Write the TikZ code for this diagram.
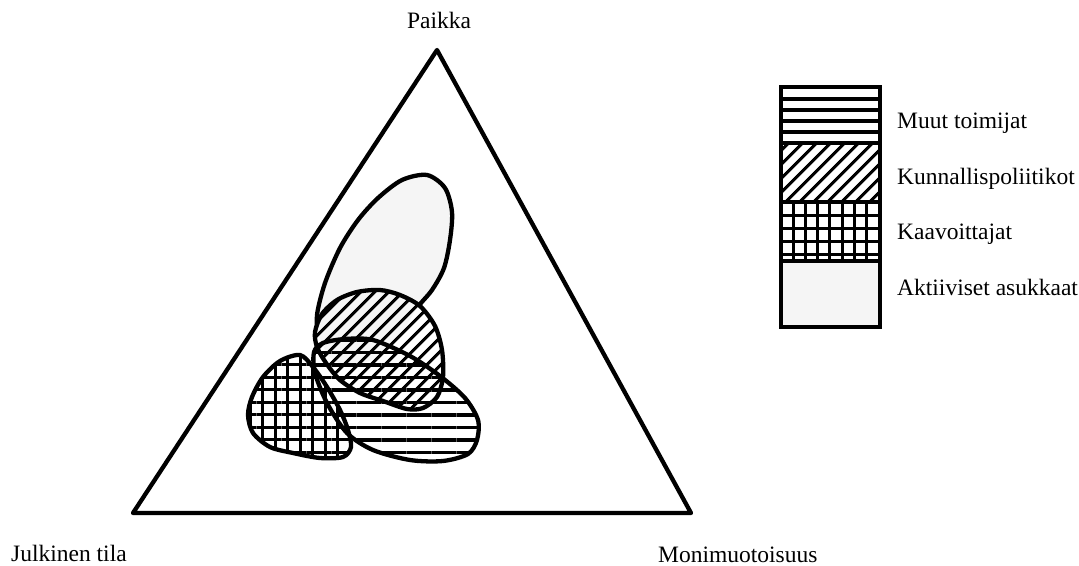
\documentclass[tikz,border=0pt]{standalone}
\usepackage{fontspec}
\setmainfont{Liberation Serif}
\usetikzlibrary{patterns.meta}
\newcommand\shpdot{plot[smooth cycle] coordinates {(427,175) (445,188) (452,212) (450,240) (444,268) (432,290) (417,308) (400,335) (375,358) (350,366) (330,357) (319,336) (317,315) (325,283) (340,248) (358,220) (378,198) (402,180)}}
\newcommand\shpdiag{plot[smooth cycle] coordinates {(380,290) (400,295) (420,306) (435,326) (442,350) (443,377) (437,397) (423,408) (407,409) (383,401) (360,393) (340,380) (326,363) (317,347) (315,332) (322,314) (337,300) (357,292)}}
\newcommand\shphor{plot[smooth cycle] coordinates {(373,340) (410,356) (440,376) (465,398) (478,420) (477,440) (468,454) (443,461) (410,460) (373,450) (347,433) (327,403) (315,373) (314,352) (323,343) (345,339)}}
\newcommand\shpgrid{plot[smooth cycle] coordinates {(300,355) (313,367) (327,387) (340,410) (348,430) (351,447) (343,457) (320,458) (293,453) (270,447) (253,433) (248,415) (252,397) (263,377) (280,361)}}
\begin{document}
\begin{tikzpicture}[x=1pt,y=-1pt,
  outl/.style={line width=4.3pt, line join=round},
  hlines/.style={pattern={Lines[distance=12.5pt, line width=3.3pt]}},
  dlines/.style={pattern={Lines[angle=45, distance=10.5pt, line width=3.3pt]}},
  gridfill/.style={pattern={Hatch[distance=12.5pt, line width=3pt]}},
  dotfill/.style={fill=black!4},
  lbl/.style={font=\fontsize{23.5}{28}\selectfont, inner sep=0pt},
  legline/.style={line width=3.3pt}]
\useasboundingbox (0,0) rectangle (1079,565);
% triangle
\coordinate (top) at (437,50);
\coordinate (bl) at (133,513);
\coordinate (br) at (691,513);
\draw[outl] (top) -- (bl) -- (br) -- cycle;
% corner labels
\node[lbl, anchor=base] (paikka) at (439,28) {Paikka};
\node[lbl, anchor=base west] (julkinen) at (11,561) {Julkinen tila};
\node[lbl, anchor=base west] (moni) at (658,562) {Monimuotoisuus};
% shapes
\fill[dotfill] \shpdot;
\begin{scope}[even odd rule]
  \clip (0,0) rectangle (1079,565) \shpdiag;
  \draw[outl] \shpdot;
\end{scope}
\path[dlines] \shpdiag;
\path[hlines] \shphor;
\path[gridfill] \shpgrid;
\draw[outl] \shpdiag;
\draw[outl] \shphor;
\draw[outl] \shpgrid;
% legend
\fill[dotfill] (781,261) rectangle (880,327);
\begin{scope}
  \clip (781,88) rectangle (880,143);
  \foreach \y in {99,110,121,132} \draw[legline] (770,\y) -- (890,\y);
\end{scope}
\path[dlines] (781,143) rectangle (880,202);
\begin{scope}
  \clip (781,202) rectangle (880,261);
  \foreach \x in {793,805.3,...,870} \draw[line width=3pt] (\x,195) -- (\x,270);
  \foreach \y in {215,228,241,254} \draw[line width=3pt] (770,\y) -- (890,\y);
\end{scope}
\draw[legline] (781,143) -- (880,143);
\draw[legline] (781,202) -- (880,202);
\draw[legline] (781,261) -- (880,261);
\draw[line width=4.3pt] (781,87) rectangle (880,327);
\node[lbl, anchor=base west] (l1) at (897,128) {Muut toimijat};
\node[lbl, anchor=base west] (l2) at (897,184) {Kunnallispoliitikot};
\node[lbl, anchor=base west] (l3) at (897,239) {Kaavoittajat};
\node[lbl, anchor=base west] (l4) at (897,295) {Aktiiviset asukkaat};
\end{tikzpicture}
\end{document}
